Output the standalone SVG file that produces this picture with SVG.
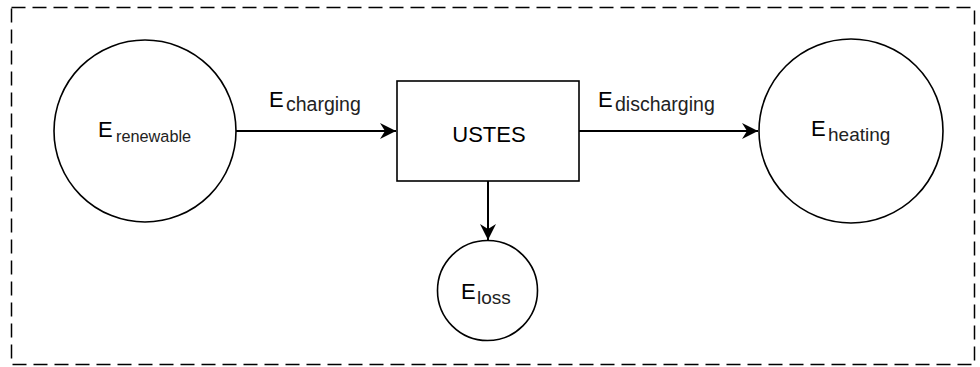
<svg xmlns="http://www.w3.org/2000/svg" width="980" height="367" viewBox="0 0 980 367">
  <defs>
    <style>
      .frame { fill: none; stroke: #000; stroke-width: 1.5; stroke-dasharray: 14 7; }
      .node { fill: #fff; stroke: #000; stroke-width: 1.6; }
      .edge { fill: none; stroke: #000; stroke-width: 2; }
      .lbl { font-family: "Liberation Sans", Arial, sans-serif; fill: #000; }
      .big { font-size: 22px; }
      .sub { fill: #222; }
    </style>
    <marker id="arrow" viewBox="-17 -9 18 18" markerWidth="18" markerHeight="18" refX="0" refY="0" orient="auto" markerUnits="userSpaceOnUse">
      <path d="M0,0 L-16,-8 L-11,0 L-16,8 Z" fill="#000"/>
    </marker>
  </defs>

  <!-- system boundary -->
  <rect class="frame" x="11.5" y="7.5" width="963" height="357"/>

  <!-- connectors -->
  <g id="connectors">
    <line class="edge" x1="236" y1="131" x2="396" y2="131" marker-end="url(#arrow)"/>
    <line class="edge" x1="579" y1="131" x2="758" y2="131" marker-end="url(#arrow)"/>
    <line class="edge" x1="488" y1="181" x2="488" y2="240" marker-end="url(#arrow)"/>
    <text class="lbl"><tspan class="big" x="269" y="107">E</tspan><tspan class="sub" x="286" y="111" font-size="19.5">charging</tspan></text>
    <text class="lbl"><tspan class="big" x="598" y="107">E</tspan><tspan class="sub" x="615" y="111" font-size="19.5">discharging</tspan></text>
  </g>

  <g id="renewable">
    <circle class="node" cx="145" cy="131" r="91"/>
    <text class="lbl"><tspan class="big" x="98" y="137">E</tspan><tspan class="sub" x="116" y="142" font-size="16.3">renewable</tspan></text>
  </g>

  <g id="ustes">
    <rect class="node" x="397" y="81" width="182" height="100"/>
    <text class="lbl" x="489" y="142" font-size="22" text-anchor="middle" fill="#222">USTES</text>
  </g>

  <g id="heating">
    <circle class="node" cx="851" cy="131" r="92"/>
    <text class="lbl"><tspan class="big" x="811" y="136">E</tspan><tspan class="sub" x="828" y="141" font-size="19">heating</tspan></text>
  </g>

  <g id="loss">
    <circle class="node" cx="487.5" cy="290.5" r="50"/>
    <text class="lbl"><tspan class="big" x="461" y="299">E</tspan><tspan class="sub" x="477" y="304" font-size="19">loss</tspan></text>
  </g>
</svg>
